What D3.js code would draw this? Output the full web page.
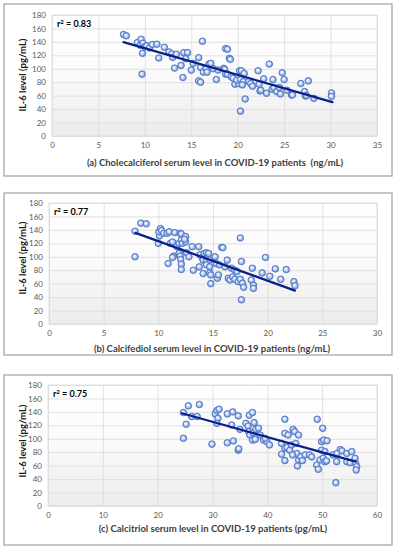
<!DOCTYPE html>
<html><head><meta charset="utf-8">
<script src="https://cdn.jsdelivr.net/npm/d3@7"></script>
<style>html,body{margin:0;padding:0;background:#fff;}svg{display:block;}</style>
</head><body>
<svg id="chart" width="395" height="550"></svg>
<script>
// ---- Data ----
const yTicks = [0,20,40,60,80,100,120,140,160,180];

const aXTicks = [0,5,10,15,20,25,30,35];
const aX = [7.7,8.0,9.2,9.5,9.6,9.8,9.75,9.7,10.0,10.2,10.5,10.8,11.3,12.1,11.5,12.6,12.9,13.0,13.4,13.2,13.9,14.1,14.2,14.4,14.6,15.0,15.2,15.8,15.8,16.0,16.2,16.0,16.3,16.6,16.7,16.9,17.1,17.4,17.7,17.9,18.5,18.6,18.7,18.9,18.7,18.9,19.1,19.2,19.3,19.5,19.7,20.1,20.2,20.4,20.7,19.9,20.3,20.6,20.5,20.8,20.3,21.2,21.4,21.6,22.2,22.3,22.4,22.5,22.8,23.1,23.4,23.8,23.7,23.9,24.2,24.5,24.6,24.8,25.0,25.3,25.8,25.9,26.8,27.6,27.2,27.3,27.4,28.2,30.1,30.1];
const aY = [151,149,139,135,144,138,123,92,133,134,131,136,136.5,132,116,125,122,117,121.6,101,105,87,124,115,124,98,108,116.5,82,80,141,102,95,100,95,107,108,100,84,98,100.7,99,92,92,130,129,115.6,114,88,86,77,78,97,97,93,83,84,81,76,55,37,81,78,74,97,77,67,68,85,63.5,107,84,69.5,72,66,72,62.5,94,84,68,61,61,78,82,66,59.5,60,56,64,59];
const aTrend = [[7.7,139.5],[30.2,50.5]];

const bXTicks = [0,5,10,15,20,25,30];
const bX = [7.87,7.87,8.4,8.9,10,10.1,10.05,10.2,10.3,10.5,10.8,11,11.5,12,12.1,10.9,11.1,11.3,11.4,11.3,11.7,11.9,12,12.1,12.2,12.5,12.5,12.4,11.9,12,12.05,12.1,12.1,12.6,12.8,13.1,13.7,13.2,13.8,14,14.2,14.4,14.6,14.1,14.4,14.7,13.75,14.1,14.4,14.7,14.7,14.8,14.8,15.2,15.3,15.4,15.5,15.8,15.9,15.6,16.1,16.3,16.7,17,17.2,16.4,16.55,16.8,17,17.3,17.5,17.7,17.8,17.5,17.6,17.6,18.6,18.7,18.7,18.5,19.5,19.8,20.2,20.7,21.2,21.7,22.4,22.5];
const bY = [138,100,150,149,120,131,137,142,139,135,135,137,136,135,134,90,120,122,101,99,115,120,107.6,125,120,130,122,126,105,101,96,89,81,106,100,115,115,80,103,99,105,106,105,95,93,95,85,75,88,85,76,73,60,100,90,68,73,114,113.5,88,85,95,83,80,78,68,65.5,70,66.5,63,66.5,60.6,54.6,128,93,36,83,58,53,65.5,76,99,71,82,66.5,81,63,57];
const bTrend = [[7.9,135.5],[22.5,49.6]];

const cXTicks = [0,10,20,30,40,50,60];
const cX = [24.7,25.6,27.6,25.2,24.7,26.2,27.2,29.9,30.5,30.8,31.2,31,30.8,32.7,33.7,34.7,32.7,33.8,33.5,34.7,34.8,35,36.1,36.5,36.7,37.3,36.6,36.8,37.4,37.6,37.9,38.4,37.3,37.8,38.7,39.3,39.9,40.4,39.6,43.2,42.6,43.2,43.8,43.2,43.6,44.1,44.4,44.7,45,45.7,45.2,45.4,45.7,43.2,42.6,44.6,46.1,46.4,46.9,47.7,48.1,45.5,49.1,50.1,49.9,50.3,50.9,49.9,50.5,49.6,50.2,49,49.3,50.5,50.8,52.5,52.65,53.3,53.6,52,52.7,54.5,55.4,54.5,55.1,56,56.1,56.3,56.2];
const cY = [139,149,151,121.6,100.7,133,133,92,137,142,144,130.5,123,137,140,134,94,96.7,120.5,83,85,114,123,119,135,139,110.6,105.6,109,124,114,115.6,98,99,105.6,98,95.7,90.8,100.7,129,93,108,105.6,86,87,83,90.8,114,110.6,105.6,93,78,68.5,67.5,77,76,73,67.5,76,76,73,59.5,129,115.6,95.7,98,97,83,81,68.5,71,61,54.6,66,67,34.7,66,84,82,76,78,78,81,66,64.5,71,63.5,58.5,53.6];
const cTrend = [[24.4,138],[56.1,66]];

const xTitles = ["(a) Cholecalciferol serum level in COVID-19 patients  (ng/mL)",
                 "(b) Calcifediol serum level in COVID-19 patients (ng/mL)",
                 "(c) Calcitriol serum level in COVID-19 patients (pg/mL)"];
const rLabels = ["0.83","0.77","0.75"];
const yTitle = "IL-6 level (pg/mL)";

// ---- Layout ----
const panels = [
  {box:[4,4,388,172], plot:[52,15,377,136], xMax:35, xTicks:aXTicks, xs:aX, ys:aY, trend:aTrend, yTitleY:75, xTitleX:215, xTitleY:166},
  {box:[4,193,388,162], plot:[49,203,377,324], xMax:30, xTicks:bXTicks, xs:bX, ys:bY, trend:bTrend, yTitleY:258, xTitleX:212, xTitleY:352},
  {box:[4,375,388,170], plot:[48,385,377,506], xMax:60, xTicks:cXTicks, xs:cX, ys:cY, trend:cTrend, yTitleY:441, xTitleX:213, xTitleY:532}
];

const svg = d3.select("#chart");
const defs = svg.append("defs");
const bg = defs.append("linearGradient").attr("id","plotbg").attr("x1",0).attr("y1",0).attr("x2",0).attr("y2",1);
bg.append("stop").attr("offset","0%").attr("stop-color","#ffffff");
bg.append("stop").attr("offset","45%").attr("stop-color","#fbfbfb");
bg.append("stop").attr("offset","100%").attr("stop-color","#ececec");
const mg = defs.append("radialGradient").attr("id","marker").attr("cx","50%").attr("cy","50%").attr("r","50%").attr("fx","40%").attr("fy","38%");
mg.append("stop").attr("offset","0%").attr("stop-color","#ffffff");
mg.append("stop").attr("offset","40%").attr("stop-color","#d6e1f6");
mg.append("stop").attr("offset","72%").attr("stop-color","#94afe3");
mg.append("stop").attr("offset","100%").attr("stop-color","#6688cf");

const FONT = "Lato, 'Open Sans', sans-serif";

panels.forEach((p,i)=>{
  const g = svg.append("g");
  g.append("rect").attr("x",p.box[0]).attr("y",p.box[1]).attr("width",p.box[2]).attr("height",p.box[3])
    .attr("fill","#fff").attr("stroke","#a8a8a8").attr("stroke-width",1.3);

  const [L,T,R,B] = p.plot;
  const x = d3.scaleLinear().domain([0,p.xMax]).range([L,R]);
  const y = d3.scaleLinear().domain([0,180]).range([B,T]);

  g.append("rect").attr("x",L).attr("y",T).attr("width",R-L).attr("height",B-T)
    .attr("fill","url(#plotbg)").attr("stroke","#d9d9d9").attr("stroke-width",0.8);

  // gridlines
  g.append("g").selectAll("line").data(yTicks).join("line")
    .attr("x1",L).attr("x2",R).attr("y1",d=>y(d)+0.5).attr("y2",d=>y(d)+0.5)
    .attr("stroke","#d9d9d9").attr("stroke-width",0.8);
  g.append("g").selectAll("line").data(p.xTicks).join("line")
    .attr("y1",T).attr("y2",B).attr("x1",d=>x(d)+0.5).attr("x2",d=>x(d)+0.5)
    .attr("stroke","#d9d9d9").attr("stroke-width",0.8);

  // axes (labels only)
  const ya = d3.axisLeft(y).tickValues(yTicks).tickSize(0).tickPadding(6);
  const yg = g.append("g").attr("transform",`translate(${L},0)`).call(ya);
  yg.select(".domain").remove();
  yg.selectAll("text").attr("fill","#595959").attr("font-size","8px").attr("font-family",FONT);

  const xa = d3.axisBottom(x).tickValues(p.xTicks).tickSize(0).tickPadding(6);
  const xg = g.append("g").attr("transform",`translate(0,${B})`).call(xa);
  xg.select(".domain").remove();
  xg.selectAll("text").attr("fill","#595959").attr("font-size","8px").attr("font-family",FONT);

  // titles
  g.append("text").attr("transform",`translate(24,${p.yTitleY}) rotate(-90)`)
    .attr("text-anchor","middle").attr("dominant-baseline","middle")
    .attr("font-family",FONT).attr("font-weight","bold").attr("font-size","9.5px").attr("fill","#1a1a1a")
    .text(yTitle);
  g.append("text").attr("x",p.xTitleX).attr("y",p.xTitleY).attr("text-anchor","middle")
    .style("white-space","pre")
    .attr("font-family",FONT).attr("font-weight","bold").attr("font-size","9.5px").attr("fill","#404040")
    .text(xTitles[i]);

  // r² label
  const rt = g.append("text").attr("x",L+5).attr("y",T+12)
    .attr("font-family",FONT).attr("font-weight","bold").attr("font-size","9px").attr("fill","#000");
  rt.append("tspan").text("r");
  rt.append("tspan").attr("dy",-3).attr("font-size","6px").text("2");
  rt.append("tspan").attr("dy",3).text(" = " + rLabels[i]);

  // points
  const pts = p.xs.map((v,k)=>[v,p.ys[k]]);
  g.append("g").selectAll("circle").data(pts).join("circle")
    .attr("cx",d=>x(d[0])).attr("cy",d=>y(d[1])).attr("r",3.3)
    .attr("fill","url(#marker)").attr("stroke","#4f76c6").attr("stroke-width",0.85);

  // trend line
  g.append("line")
    .attr("x1",x(p.trend[0][0])).attr("y1",y(p.trend[0][1]))
    .attr("x2",x(p.trend[1][0])).attr("y2",y(p.trend[1][1]))
    .attr("stroke","#0b1f8a").attr("stroke-width",2.3).attr("stroke-linecap","round");
});
</script>
</body></html>
